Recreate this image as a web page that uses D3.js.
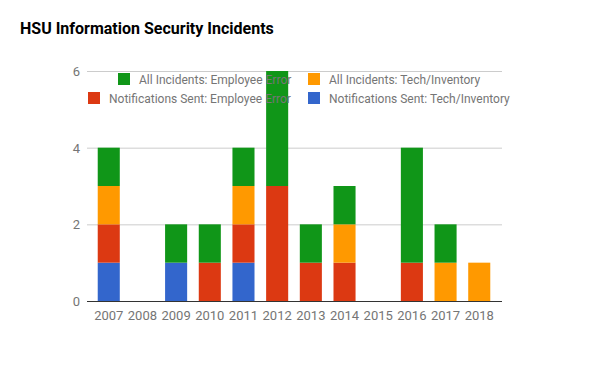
<!DOCTYPE html>
<html>
<head>
<meta charset="utf-8">
<script src="https://cdn.jsdelivr.net/npm/d3@7"></script>
<style>
  body { margin: 0; background: #fff; }
  svg { font-family: Roboto, Arial, sans-serif; }
</style>
</head>
<body>
<div id="chart"></div>
<script>
var years = ['2007', '2008', '2009', '2010', '2011', '2012', '2013', '2014', '2015', '2016', '2017', '2018'];

// stack order, bottom to top
var notifTech  = [1, 0, 1, 0, 1, 0, 0, 0, 0, 0, 0, 0];
var notifError = [1, 0, 0, 1, 1, 3, 1, 1, 0, 1, 0, 0];
var allTech    = [1, 0, 0, 0, 1, 0, 0, 1, 0, 0, 1, 1];
var allError   = [1, 0, 1, 1, 1, 3, 1, 1, 0, 3, 1, 0];

var yTicks = [0, 2, 4, 6];

var seriesNames = [
  'Notifications Sent: Tech/Inventory',
  'Notifications Sent: Employee Error',
  'All Incidents: Tech/Inventory',
  'All Incidents: Employee Error'
];
var seriesColors = ['#3366cc', '#dc3912', '#ff9900', '#109618'];
var seriesValues = [notifTech, notifError, allTech, allError];

var width = 600, height = 371;

var svg = d3.select('#chart')
  .append('svg')
    .attr('width', width)
    .attr('height', height);

var table = years.map(function(y, i) {
  var row = { year: y };
  seriesNames.forEach(function(name, k) { row[name] = seriesValues[k][i]; });
  return row;
});

var stack = d3.stack().keys(seriesNames);
var layers = stack(table);

var x_ = d3.scaleBand()
  .domain(years)
  .range([92, 496])
  .paddingInner(0.345)
  .paddingOuter(0.17);

var y_ = d3.scaleLinear()
  .domain([0, 6])
  .range([301, 71]);

// title
svg.append('text')
  .attr('x', 20)
  .attr('y', 34)
  .attr('font-size', 16)
  .attr('font-weight', 'bold')
  .attr('fill', '#000')
  .text('HSU Information Security Incidents');

// gridlines
svg.append('g')
  .selectAll('line')
  .data(yTicks.filter(function(d) { return d > 0; }))
  .enter().append('line')
    .attr('x1', 87)
    .attr('x2', 502)
    .attr('y1', function(d) { return y_(d) + 0.5; })
    .attr('y2', function(d) { return y_(d) + 0.5; })
    .attr('stroke', '#cccccc');

// y labels
svg.append('g')
  .selectAll('text')
  .data(yTicks)
  .enter().append('text')
    .attr('x', 80)
    .attr('y', function(d) { return y_(d) + 5; })
    .attr('text-anchor', 'end')
    .attr('font-size', 13)
    .attr('fill', '#757575')
    .text(function(d) { return d; });

// bars
svg.append('g')
  .selectAll('g')
  .data(layers)
  .enter().append('g')
    .attr('fill', function(d, i) { return seriesColors[i]; })
  .selectAll('rect')
  .data(function(d) { return d; })
  .enter().append('rect')
    .attr('x', function(d) { return x_(d.data.year); })
    .attr('y', function(d) { return y_(d[1]); })
    .attr('width', x_.bandwidth())
    .attr('height', function(d) { return y_(d[0]) - y_(d[1]); });

// baseline
svg.append('line')
  .attr('x1', 87)
  .attr('x2', 502)
  .attr('y1', y_(0) + 0.5)
  .attr('y2', y_(0) + 0.5)
  .attr('stroke', '#333333');

// x labels
svg.append('g')
  .selectAll('text')
  .data(years)
  .enter().append('text')
    .attr('x', function(d) { return x_(d) + x_.bandwidth() / 2; })
    .attr('y', 320)
    .attr('text-anchor', 'middle')
    .attr('font-size', 13)
    .attr('fill', '#757575')
    .text(function(d) { return d; });

// legend (two rows, drawn over the bars)
var legendItems = [
  { k: 3, x: 118, y: 73 },
  { k: 2, x: 308, y: 73 },
  { k: 1, x: 88,  y: 92 },
  { k: 0, x: 308, y: 92 }
];

var legend = svg.append('g')
  .selectAll('g')
  .data(legendItems)
  .enter().append('g')
    .attr('transform', function(d) { return 'translate(' + d.x + ',' + d.y + ')'; });

legend.append('rect')
  .attr('width', 12)
  .attr('height', 12)
  .attr('fill', function(d) { return seriesColors[d.k]; });

legend.append('text')
  .attr('x', 21)
  .attr('y', 11)
  .attr('font-size', 12)
  .attr('fill', '#757575')
  .text(function(d) { return seriesNames[d.k]; });
</script>
</body>
</html>
